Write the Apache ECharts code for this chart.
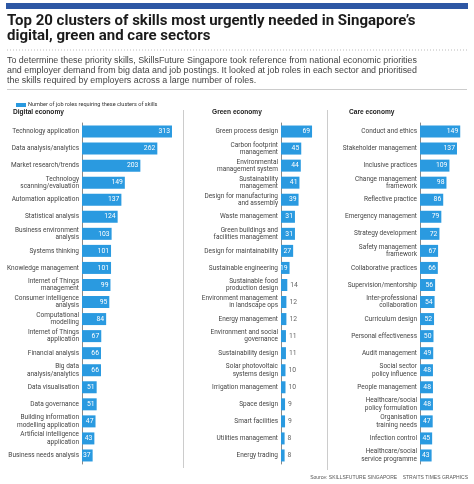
<!DOCTYPE html>
<html><head><meta charset="utf-8">
<script src="https://cdn.jsdelivr.net/npm/echarts@6/dist/echarts.min.js"></script>
<style>html,body{margin:0;padding:0;background:#fff}#c{width:474px;height:484px}</style>
</head><body><div id="c"></div>
<script>
const digitalCats = ["Technology application","Data analysis/analytics","Market research/trends","Technology\nscanning/evaluation","Automation application","Statistical analysis","Business environment\nanalysis","Systems thinking","Knowledge management","Internet of Things\nmanagement","Consumer intelligence\nanalysis","Computational\nmodelling","Internet of Things\napplication","Financial analysis","Big data\nanalysis/analytics","Data visualisation","Data governance","Building information\nmodelling application","Artificial intelligence\napplication","Business needs analysis"];
const digitalVals = [313,262,203,149,137,124,103,101,101,99,95,84,67,66,66,51,51,47,43,37];
const greenCats = ["Green process design","Carbon footprint\nmanagement","Environmental\nmanagement system","Sustainability\nmanagement","Design for manufacturing\nand assembly","Waste management","Green buildings and\nfacilities management","Design for maintainability","Sustainable engineering","Sustainable food\nproduction design","Environment management\nin landscape ops","Energy management","Environment and social\ngovernance","Sustainability design","Solar photovoltaic\nsystems design","Irrigation management","Space design","Smart facilities","Utilities management","Energy trading"];
const greenVals = [69,45,44,41,39,31,31,27,19,14,12,12,11,11,10,10,9,9,8,8];
const careCats = ["Conduct and ethics","Stakeholder management","Inclusive practices","Change management\nframework","Reflective practice","Emergency management","Strategy development","Safety management\nframework","Collaborative practices","Supervision/mentorship","Inter-professional\ncollaboration","Curriculum design","Personal effectiveness","Audit management","Social sector\npolicy influence","People management","Healthcare/social\npolicy formulation","Organisation\ntraining needs","Infection control","Healthcare/social\nservice programme"];
const careVals = [149,137,109,98,86,79,72,67,66,56,54,52,50,49,48,48,48,47,45,43];
const sectorNames = ["Digital economy","Green economy","Care economy"];
const seriesName = "Number of job roles requiring these clusters of skills";

const BLUE = '#2a9ae0';
const LBL = 'Roboto, Liberation Sans, Arial, sans-serif';
const panels = [
  {cats: digitalCats, vals: digitalVals, left: 82, width: 115, max: 400, min: 0},
  {cats: greenCats, vals: greenVals, left: 281, width: 45, max: 100, min: 0},
  {cats: careCats, vals: careVals, left: 420, width: 55, max: 200, min: 0}
];
const grids = [], xAxes = [], yAxes = [], series = [];
panels.forEach((p, i) => {
  grids.push({left: p.left, top: 123, width: p.width, height: 341});
  xAxes.push({type: 'value', gridIndex: i, min: p.min, max: p.max, show: false});
  yAxes.push({type: 'category', gridIndex: i, data: p.cats, inverse: true,
    axisLine: {show: true, lineStyle: {color: '#8a8a8a', width: 1}},
    axisTick: {show: false},
    axisLabel: {fontSize: 6.5, color: '#444', fontFamily: LBL, margin: 3, lineHeight: 7.4, align: 'right'}});
  const pxPerUnit = p.width / p.max;
  series.push({type: 'bar', name: seriesName, xAxisIndex: i, yAxisIndex: i, barWidth: 12,
    itemStyle: {color: BLUE}, animation: false,
    data: p.vals.map(v => {
      const inside = v * pxPerUnit >= 8;
      return {value: v, label: inside
        ? {show: true, position: 'insideRight', distance: 2, color: '#fff', fontSize: 6.8, fontFamily: LBL}
        : {show: true, position: 'right', distance: 3, color: '#666', fontSize: 6.8, fontFamily: LBL}};
    })});
});

const option = {
  animation: false,
  grid: grids, xAxis: xAxes, yAxis: yAxes, series: series,
  legend: {show: true, left: 11, top: 97, itemWidth: 10, itemHeight: 4, icon: 'rect',
    data: [seriesName], textStyle: {fontSize: 5.6, color: '#333', fontFamily: LBL, padding: [0,0,0,-3]}, selectedMode: false},
  graphic: [
    {type: 'rect', shape: {x: 6, y: 3, width: 462, height: 6}, style: {fill: '#2d57a4'}},
    {type: 'text', left: 7, top: 14, style: {text: "Top 20 clusters of skills most urgently needed in Singapore’s\ndigital, green and care sectors",
      font: 'bold 15px Roboto, Arial, sans-serif', fill: '#1b1b1b', lineHeight: 14.5}},
    {type: 'line', shape: {x1: 7, y1: 50, x2: 467, y2: 50}, style: {stroke: '#bbb', lineWidth: 1, lineDash: [1, 2]}},
    {type: 'text', left: 7, top: 56, style: {text: "To determine these priority skills, SkillsFuture Singapore took reference from national economic priorities\nand employer demand from big data and job postings. It looked at job roles in each sector and prioritised\nthe skills required by employers across a large number of roles.",
      font: '8.9px Liberation Sans, Arial, sans-serif', fill: '#444', lineHeight: 9.8}},
    {type: 'line', shape: {x1: 7, y1: 89.5, x2: 467, y2: 89.5}, style: {stroke: '#ccc', lineWidth: 1}},
    {type: 'text', left: 13, top: 109, style: {text: sectorNames[0], font: 'bold 6.6px Liberation Sans, Arial, sans-serif', fill: '#222'}},
    {type: 'text', left: 212, top: 109, style: {text: sectorNames[1], font: 'bold 6.6px Liberation Sans, Arial, sans-serif', fill: '#222'}},
    {type: 'text', left: 349, top: 109, style: {text: sectorNames[2], font: 'bold 6.6px Liberation Sans, Arial, sans-serif', fill: '#222'}},
    {type: 'line', shape: {x1: 183.5, y1: 110, x2: 183.5, y2: 468}, style: {stroke: '#ccc', lineWidth: 1}},
    {type: 'line', shape: {x1: 327.5, y1: 110, x2: 327.5, y2: 470}, style: {stroke: '#ccc', lineWidth: 1}},
    {type: 'text', right: 6, top: 475, style: {text: "Source: SKILLSFUTURE SINGAPORE    STRAITS TIMES GRAPHICS", font: '5px Liberation Sans, Arial, sans-serif', fill: '#555'}}
  ]
};
const chart = echarts.init(document.getElementById('c'), null, {renderer: 'canvas'});
chart.setOption(option);
</script></body></html>
